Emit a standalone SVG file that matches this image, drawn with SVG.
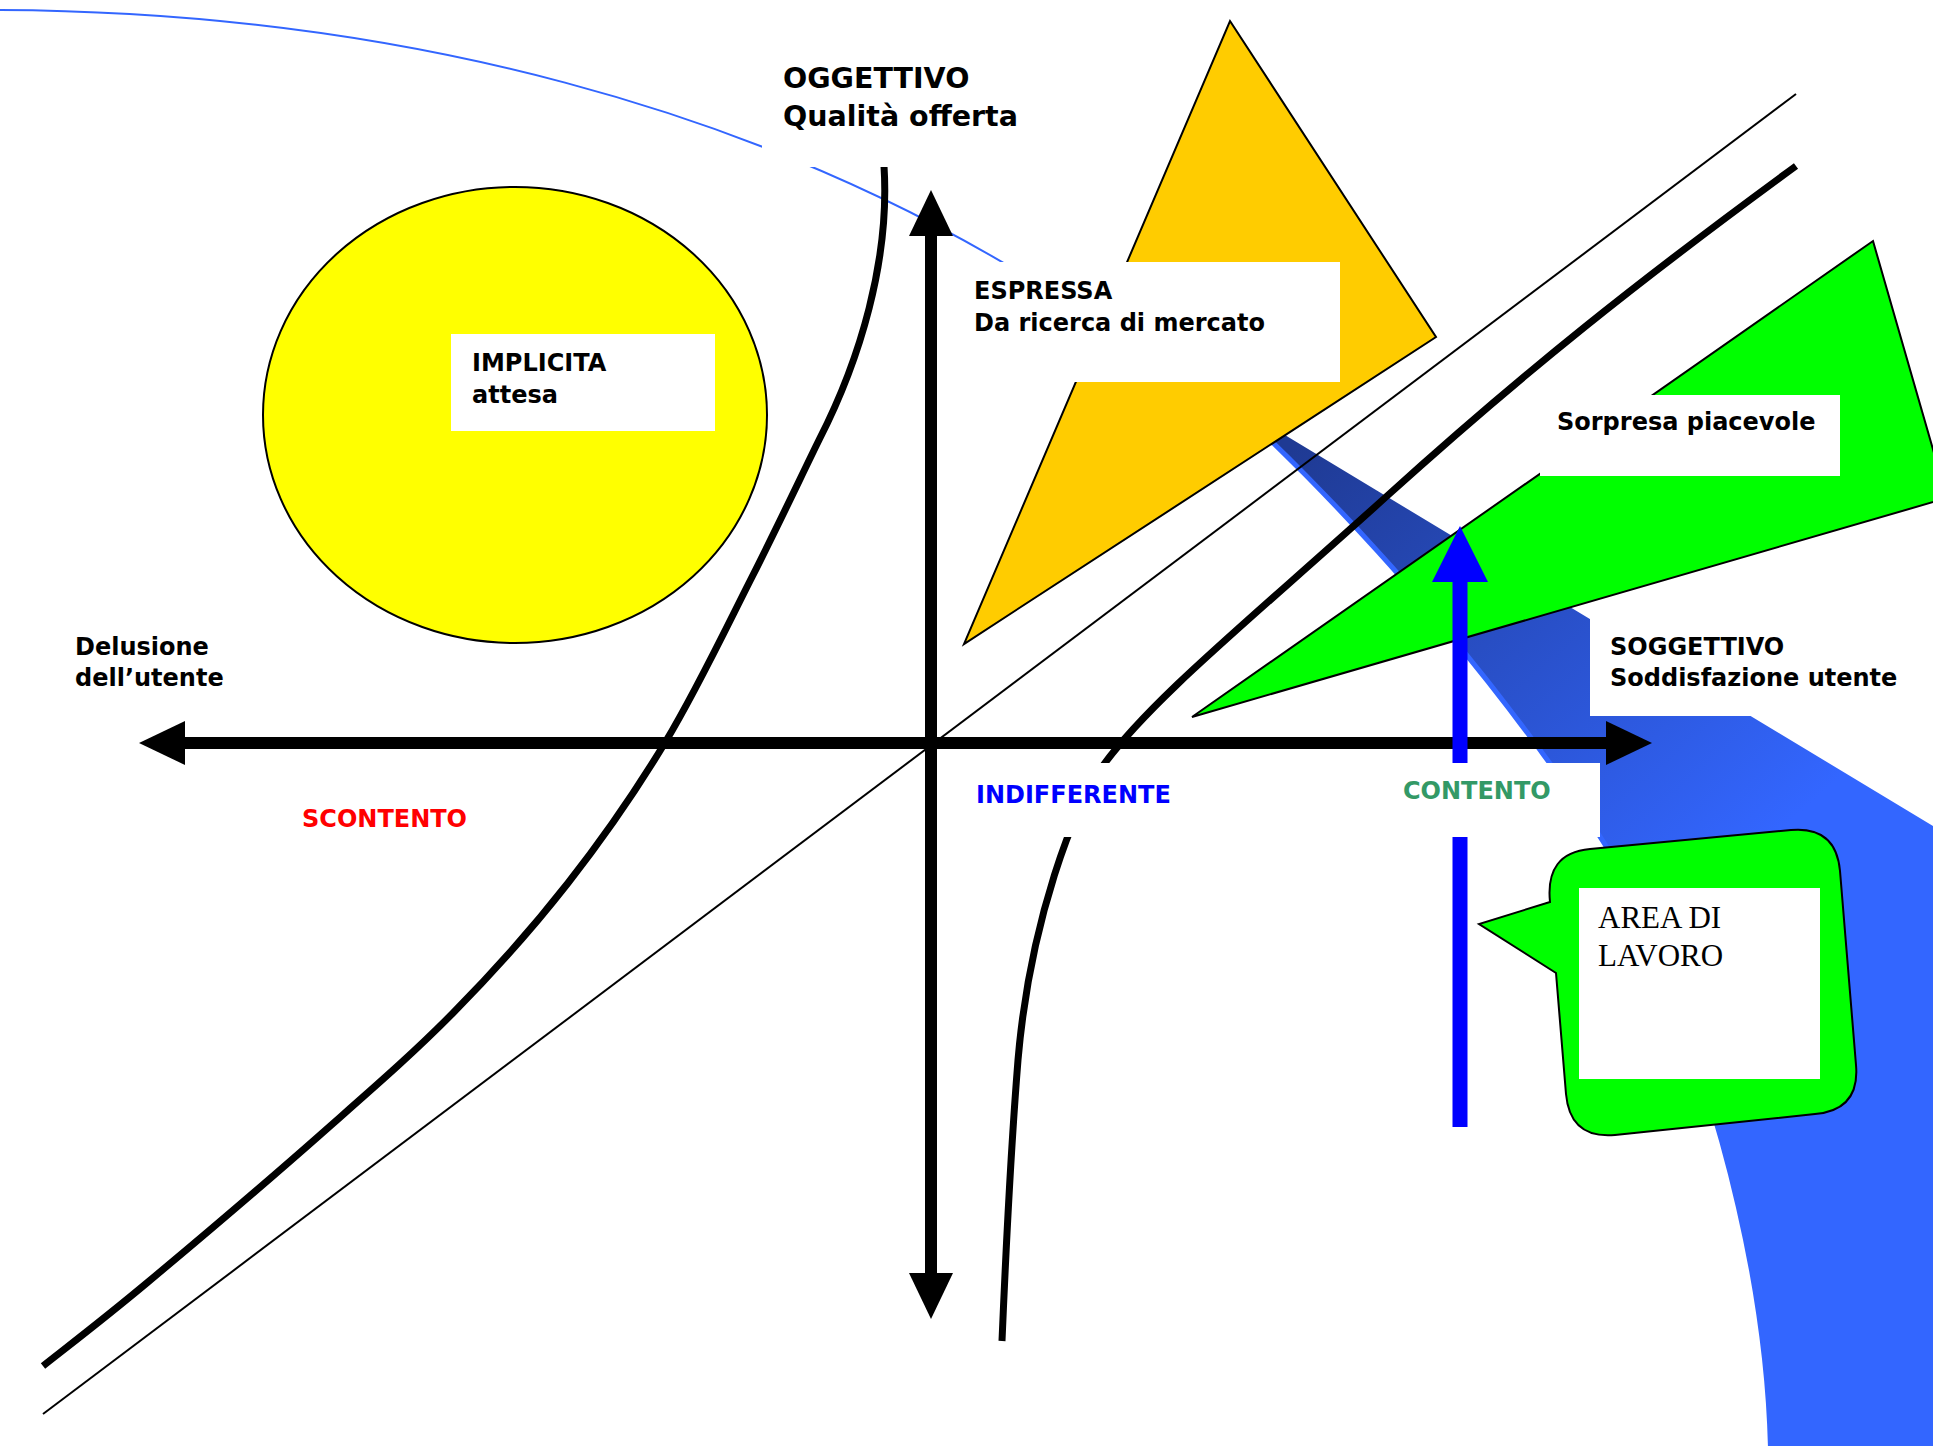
<svg xmlns="http://www.w3.org/2000/svg" width="1933" height="1446" viewBox="0 0 1933 1446">
<defs>
<style>
.lbl{font-family:"DejaVu Sans","Liberation Sans",sans-serif;font-weight:bold;font-size:24px;fill:#000}
.big{font-size:28.5px}
.serif{font-family:"Liberation Serif","Times New Roman",serif;font-size:31px;fill:#000}
.box{fill:#fff;stroke:none}
.thick{fill:none;stroke:#000;stroke-width:7}
.thin{fill:none;stroke:#000;stroke-width:2}
.shape{stroke:#000;stroke-width:2}
</style>
<linearGradient id="bandGrad" gradientUnits="userSpaceOnUse" x1="1300" y1="440" x2="1700" y2="900">
<stop offset="0" stop-color="#1F3A93"/>
<stop offset="1" stop-color="#3366FF"/>
</linearGradient>
<marker id="blackHead" markerUnits="userSpaceOnUse" markerWidth="46" markerHeight="44" viewBox="0 0 46 44" refX="0" refY="22" orient="auto-start-reverse">
<path d="M0,0 L46,22 L0,44 Z" fill="#000"/>
</marker>
<marker id="blueHead" markerUnits="userSpaceOnUse" markerWidth="56" markerHeight="56" viewBox="0 0 56 56" refX="0" refY="28" orient="auto">
<path d="M0,0 L56,28 L0,56 Z" fill="#0000FF"/>
</marker>
</defs>
<rect width="1933" height="1446" fill="#fff"/>

<g id="top-curve">
<path d="M0,10 C400,12 760,110 1040,285" fill="none" stroke="#3366FF" stroke-width="2"/>
</g>

<g id="curve-left">
<path class="thick" d="M884,166 C890,260 860,360 819,440 C801.8,475 777.5,526.8 752,577 C726.5,627.2 696.7,690 666,741 C635.3,792 603.5,837.7 568,883 C532.5,928.3 494.2,971.2 453,1013 C411.8,1054.8 371.8,1089.2 321,1134 C270.2,1178.8 194.3,1243.3 148,1282 C101.7,1320.7 60.5,1352 43,1366"/>
</g>

<g id="oggettivo">
<rect class="box" x="762" y="40" width="268" height="127"/>
<text class="lbl big" x="783" y="88">OGGETTIVO</text>
<text class="lbl big" x="783" y="126">Qualità offerta</text>
</g>

<g id="implicita">
<ellipse cx="515" cy="415" rx="252" ry="228" fill="#FFFF00" class="shape"/>
<rect class="box" x="451" y="334" width="264" height="97"/>
<text class="lbl" x="472" y="371">IMPLICITA</text>
<text class="lbl" x="472" y="403">attesa</text>
</g>

<g id="band">
<path d="M1240,408 L1933,826 L1933,1446 L1772,1446 C1768,1250 1700,1020 1607,843 C1555,760 1420,575 1240,408 Z" fill="#3366FF" transform="translate(-4,3)"/>
<path d="M1240,408 L1933,826 L1933,1446 L1772,1446 C1768,1250 1700,1020 1607,843 C1555,760 1420,575 1240,408 Z" fill="url(#bandGrad)"/>
</g>

<g id="espressa">
<polygon points="1230,21 1436,337 964,644" fill="#FFCC00" class="shape"/>
<rect class="box" x="955" y="262" width="385" height="120"/>
<text class="lbl" x="974" y="299">ESPRESSA</text>
<text class="lbl" x="974" y="331">Da ricerca di mercato</text>
</g>

<g id="diagonals">
<line class="thin" x1="43" y1="1414" x2="1796" y2="94"/>
<path class="thick" d="M1796,166 C1640,280 1524,372 1387,496 C1250,620 1150,700 1102,767 C1075,805 1030,920 1018,1060 C1010,1160 1005,1270 1002,1341"/>
</g>

<g id="soggettivo">
<rect class="box" x="1590" y="612" width="190" height="104"/>
<text class="lbl" x="1610" y="655">SOGGETTIVO</text>
<text class="lbl" x="1610" y="686">Soddisfazione utente</text>
</g>

<g id="sorpresa">
<polygon points="1873,241 1947,498 1192,717" fill="#00FF00" class="shape"/>
<rect class="box" x="1540" y="395" width="300" height="81"/>
<text class="lbl" x="1557" y="430">Sorpresa piacevole</text>
</g>

<g id="connectors">
<line x1="185" y1="743" x2="1606" y2="743" stroke="#000" stroke-width="12" marker-start="url(#blackHead)" marker-end="url(#blackHead)"/>
<line x1="931" y1="236" x2="931" y2="1273" stroke="#000" stroke-width="12" marker-start="url(#blackHead)" marker-end="url(#blackHead)"/>
<line x1="1460" y1="1127" x2="1460" y2="582" stroke="#0000FF" stroke-width="15" marker-end="url(#blueHead)"/>
</g>

<g id="scale-labels">
<rect class="box" x="945" y="763" width="655" height="74"/>
<text class="lbl" x="976" y="803" style="fill:#0000FF">INDIFFERENTE</text>
<text class="lbl" x="1403" y="799" style="fill:#339966">CONTENTO</text>
<text class="lbl" x="302" y="827" style="fill:#FF0000">SCONTENTO</text>
</g>

<g id="delusione">
<text class="lbl" x="75" y="655">Delusione</text>
<text class="lbl" x="75" y="686">dell’utente</text>
</g>

<g id="area-lavoro">
<path d="M1590,849 L1791,830 Q1836,826 1840,871 L1856,1065 Q1860,1110 1815,1114 L1615,1135 Q1570,1139 1566,1094 L1556,973 L1479,924 L1550,902 Q1545,853 1590,849 Z" fill="#00FF00" class="shape"/>
<rect class="box" x="1579" y="888" width="241" height="191"/>
<text class="serif" x="1598" y="928">AREA DI</text>
<text class="serif" x="1598" y="966">LAVORO</text>
</g>
</svg>
